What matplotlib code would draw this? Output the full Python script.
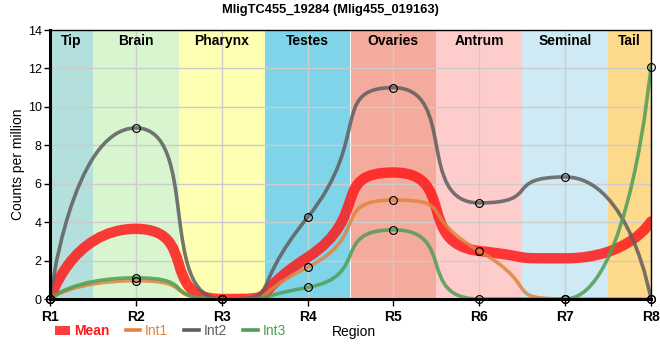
import numpy as np
import matplotlib
matplotlib.use("Agg")
import matplotlib.pyplot as plt
from matplotlib.path import Path
from matplotlib.patches import PathPatch, Patch
from matplotlib.lines import Line2D

regions = ["R1", "R2", "R3", "R4", "R5", "R6", "R7", "R8"]
int1 = [0, 0.95, 0, 1.65, 5.15, 2.5, 0, 0]
int2 = [0, 8.9, 0, 4.25, 11.0, 5.0, 6.35, 0]
int3 = [0, 1.1, 0, 0.6, 3.6, 0, 0, 12.1]
mean = [(a + b + c) / 3 for a, b, c in zip(int1, int2, int3)]

band_names = ["Tip", "Brain", "Pharynx", "Testes", "Ovaries", "Antrum", "Seminal", "Tail"]
band_colors = ["#b3e0dc", "#d8f5d0", "#ffffb3", "#80d4ea", "#f4aa9c", "#ffcccc", "#cfeaf4", "#fdd98b"]

plt.rcParams['font.family'] = ['Liberation Sans', 'DejaVu Sans']

fig = plt.figure(figsize=(6.6, 3.6), dpi=100)
ax = fig.add_axes([50/660, 1-299/360, 601/660, 269/360])

x = np.arange(1, len(regions) + 1, dtype=float)

for i, (nm, col) in enumerate(zip(band_names, band_colors)):
    lo = max(1, x[i] - 0.5)
    hi = min(len(regions), x[i] + 0.5)
    ax.axvspan(lo, hi, color=col, zorder=0, lw=0)
    ax.text((lo + hi) / 2, 13.45, nm, ha='center', va='center', fontsize=10,
            fontweight='bold', zorder=5)


def smooth_path(xs, ys, s=0.75):
    n = len(xs)
    verts = [(xs[0], ys[0])]
    codes = [Path.MOVETO]
    cp0 = (xs[0], ys[0])
    for i in range(1, n):
        px, py = xs[i], ys[i]
        qx, qy = xs[i-1], ys[i-1]
        if i == n - 1:
            cp1 = (px, py)
            ncp0 = (px, py)
        else:
            nx, ny = xs[i+1], ys[i+1]
            vx, vy = nx - qx, ny - qy
            r = 0.5
            fx = px + vx * s * r
            fy = py + vy * s * r
            fx = min(max(fx, min(nx, px)), max(nx, px))
            fy = min(max(fy, min(ny, py)), max(ny, py))
            bx = px - (fx - px)
            by = py - (fy - py)
            bx = min(max(bx, min(qx, px)), max(qx, px))
            by = min(max(by, min(qy, py)), max(qy, py))
            cp1 = (bx, by)
            ncp0 = (px + (px - bx), py + (py - by))
        verts += [cp0, cp1, (px, py)]
        codes += [Path.CURVE4] * 3
        cp0 = ncp0
    return Path(verts, codes)


series = [
    ("Mean", mean, "#ff1a1a", 7.5, 0.85, False),
    ("Int1", int1, "#e0853f", 2.6, 0.85, True),
    ("Int2", int2, "#5e5e5e", 2.6, 0.85, True),
    ("Int3", int3, "#4f9e55", 2.6, 0.85, True),
]

for name, ys, col, lw, al, mk in series:
    p = smooth_path(list(x), list(ys))
    ax.add_patch(PathPatch(p, fill=False, edgecolor=col, lw=lw, alpha=al,
                           zorder=3, capstyle='round', joinstyle='round'))
for name, ys, col, lw, al, mk in series:
    if mk:
        ax.plot(x, ys, 'o', ms=5.6, mfc='none', mec='black', mew=0.85,
                zorder=6, clip_on=False)

ax.set_xlim(1, 8)
ax.set_ylim(0, 14)
ax.set_xticks(x)
ax.set_xticklabels(regions, fontsize=10, fontweight='bold')
ax.set_yticks(np.arange(0, 15, 2))
ax.tick_params(axis='y', labelsize=9, length=4, width=1, pad=2)
ax.tick_params(axis='x', length=5, width=1, pad=3)
ax.grid(True, color='#cccccc', lw=1, zorder=1)
for gl in ax.get_xgridlines() + ax.get_ygridlines():
    gl.set_zorder(1)
for s in ['top', 'right']:
    ax.spines[s].set_linewidth(1)
for s in ['left', 'bottom']:
    ax.spines[s].set_linewidth(2.2)
for s in ax.spines.values():
    s.set_zorder(7)

ax.set_ylabel("Counts per million", fontsize=10, labelpad=2)
fig.text(332/660, 1-332/360, "Region", fontsize=10, ha='left', va='center')
fig.suptitle("MligTC455_19284 (Mlig455_019163)", fontsize=9.3, fontweight='bold',
             x=0.5, y=1-10/360, va='center')

handles = [
    Patch(facecolor="#ff1a1a", alpha=0.85, edgecolor='none'),
    Line2D([], [], color="#e0853f", lw=2.6),
    Line2D([], [], color="#5e5e5e", lw=2.6),
    Line2D([], [], color="#4f9e55", lw=2.6),
]
labels = ["Mean", "Int1", "Int2", "Int3"]
leg = fig.legend(handles, labels, loc='center left', bbox_to_anchor=(55/660, 1-331/360),
                 ncol=4, frameon=False, fontsize=10, handlelength=1.05, handleheight=0.6,
                 handletextpad=0.35, columnspacing=1.15, borderaxespad=0, borderpad=0)
for t, c in zip(leg.get_texts(), ["#ff1a1a", "#e0853f", "#5e5e5e", "#4f9e55"]):
    t.set_color(c)
leg.get_texts()[0].set_fontweight('bold')

fig.savefig("out.png", dpi=100)
